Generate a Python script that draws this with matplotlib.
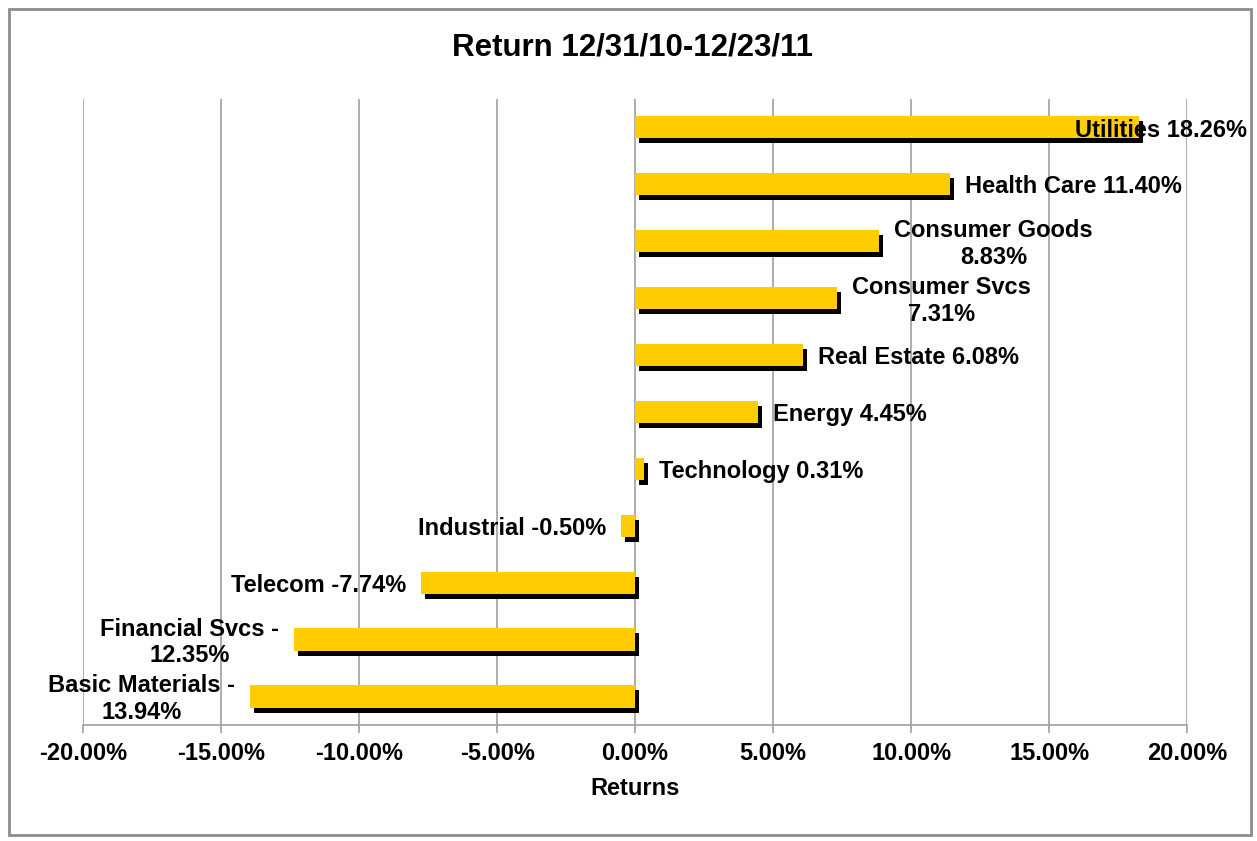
import matplotlib.pyplot as plt
import matplotlib.transforms as mtransforms
from matplotlib.patches import Rectangle

plt.rcParams["font.family"] = ["Liberation Sans", "DejaVu Sans"]
plt.rcParams["font.weight"] = "bold"

# === Data (top to bottom as shown) ===
sectors = [
    "Utilities", "Health Care", "Consumer Goods", "Consumer Svcs", "Real Estate",
    "Energy", "Technology", "Industrial", "Telecom", "Financial Svcs", "Basic Materials",
]
returns = [18.26, 11.40, 8.83, 7.31, 6.08, 4.45, 0.31, -0.50, -7.74, -12.35, -13.94]
labels = [
    "Utilities 18.26%", "Health Care 11.40%", "Consumer Goods\n8.83%",
    "Consumer Svcs\n7.31%", "Real Estate 6.08%", "Energy 4.45%",
    "Technology 0.31%", "Industrial -0.50%", "Telecom -7.74%",
    "Financial Svcs -\n12.35%", "Basic Materials -\n13.94%",
]
ticks = [-20, -15, -10, -5, 0, 5, 10, 15, 20]

fig = plt.figure(figsize=(12.57, 8.41), dpi=100)
ax = fig.add_axes([0.066, 0.138, 0.8785, 0.7445])

ypos = list(range(len(sectors)))
bar_h = 0.39

# shadow: same bars shifted a few pixels right/down
shadow_tr = mtransforms.offset_copy(ax.transData, fig=fig, x=4, y=-5, units="dots")
ax.barh(ypos, returns, height=bar_h, color="black", transform=shadow_tr, zorder=2)
ax.barh(ypos, returns, height=bar_h, color="#FFCC00", zorder=3)

for y, v, lab in zip(ypos, returns, labels):
    if v >= 0:
        dx = 11 if y > 0 else -46  # utilities label pushed back inside chart
        ax.annotate(lab, (v, y), xytext=(dx, -2), textcoords="offset points",
                    ha="left", va="center", fontsize=17, fontweight="bold",
                    multialignment="center", zorder=4)
    else:
        ax.annotate(lab, (v, y), xytext=(-11, -2), textcoords="offset points",
                    ha="right", va="center", fontsize=17, fontweight="bold",
                    multialignment="center", zorder=4)

ax.set_xlim(-20, 20)
ax.set_ylim(len(sectors) - 0.5, -0.5)
ax.set_xticks(ticks)
ax.set_xticklabels([f"{t:.2f}%" for t in ticks], fontsize=17, fontweight="bold")
ax.set_yticks([])
ax.grid(axis="x", color="#a0a0a0", linewidth=1.2, zorder=0)
ax.set_axisbelow(True)
for s in ["top", "right", "left"]:
    ax.spines[s].set_visible(False)
ax.spines["bottom"].set_color("#a0a0a0")
ax.spines["bottom"].set_linewidth(1.2)
ax.tick_params(axis="x", direction="out", length=6, width=1.2, color="#a0a0a0", pad=6)
ax.set_xlabel("Returns", fontsize=17, fontweight="bold", labelpad=9)

fig.text(0.503, 0.943, "Return 12/31/10-12/23/11", ha="center", va="center",
         fontsize=22.5, fontweight="bold")

# outer chart frame
fig.patches.append(Rectangle((9 / 1257, 1 - 835 / 841), 1242 / 1257, 826 / 841,
                             transform=fig.transFigure, fill=False,
                             edgecolor="#8c8c8c", linewidth=2))

fig.savefig("out.png", dpi=100)
